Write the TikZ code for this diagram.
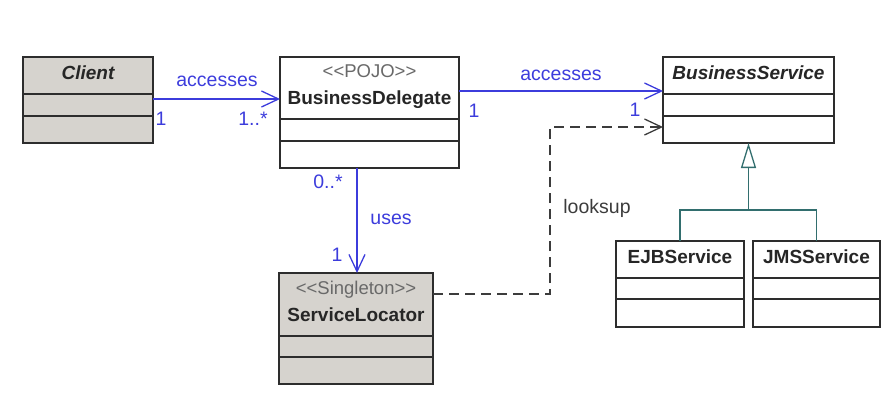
\documentclass[tikz,border=0pt]{standalone}
\usepackage{fontspec}
\setmainfont{Liberation Sans}
\usetikzlibrary{arrows.meta}
\definecolor{umlblue}{RGB}{60,60,220}
\definecolor{umlgray}{RGB}{214,211,206}
\definecolor{umlline}{RGB}{45,45,45}
\definecolor{umlteal}{RGB}{50,110,110}
\definecolor{stereo}{RGB}{105,105,105}
\definecolor{dashc}{RGB}{60,60,60}
\begin{document}
\begin{tikzpicture}[x=1pt,y=-1pt,
  cls/.style={draw=umlline, line width=1.3pt, anchor=north west, inner sep=0pt, outer sep=0pt},
  div/.style={draw=umlline, line width=1.3pt},
  cname/.style={font=\bfseries\fontsize{19}{22}\selectfont, text=black!85, anchor=base, inner sep=0pt},
  stereotype/.style={font=\fontsize{18.5}{22}\selectfont, text=stereo, anchor=base, inner sep=0pt},
  lbl/.style={font=\fontsize{19.5}{22}\selectfont, text=umlblue, anchor=base, inner sep=0pt},
  dlbl/.style={font=\fontsize{19.5}{22}\selectfont, text=dashc, anchor=base, inner sep=0pt},
  assoc/.style={draw=umlblue, line width=1.3pt, -{Straight Barb[length=17pt,width=16pt,line width=1.3pt]}},
  dep/.style={draw=dashc, line width=1.3pt, dash pattern=on 10pt off 6pt, -{Straight Barb[length=17pt,width=16pt,line width=1.3pt]}},
  genl/.style={draw=umlteal, line width=1.3pt}
]
\useasboundingbox (0,0) rectangle (883,392);

% Client
\node[cls, fill=umlgray, minimum width=130pt, minimum height=86pt] (client) at (23,57) {};
\draw[div] (23,94) -- (153,94);
\draw[div] (23,116) -- (153,116);
\node[cname] (clientname) at (88,79) {\itshape Client};

% BusinessDelegate
\node[cls, fill=white, minimum width=179pt, minimum height=111pt] (bd) at (280,57) {};
\draw[div] (280,119) -- (459,119);
\draw[div] (280,141) -- (459,141);
\node[stereotype] (bdst) at (369.5,77) {{<}{<}POJO{>}{>}};
\node[cname] (bdname) at (369.5,104) {BusinessDelegate};

% BusinessService
\node[cls, fill=white, minimum width=171pt, minimum height=86pt] (bs) at (663,57) {};
\draw[div] (663,94) -- (834,94);
\draw[div] (663,116) -- (834,116);
\node[cname] (bsname) at (748.5,79) {\itshape BusinessService};

% ServiceLocator
\node[cls, fill=umlgray, minimum width=154pt, minimum height=111pt] (sl) at (279,273) {};
\draw[div] (279,336) -- (433,336);
\draw[div] (279,357) -- (433,357);
\node[stereotype] (slst) at (356,294) {{<}{<}Singleton{>}{>}};
\node[cname] (slname) at (356,321) {ServiceLocator};

% EJBService
\node[cls, fill=white, minimum width=128pt, minimum height=86pt] (ejb) at (616,241) {};
\draw[div] (616,278) -- (744,278);
\draw[div] (616,299) -- (744,299);
\node[cname] (ejbname) at (680,263) {EJBService};

% JMSService
\node[cls, fill=white, minimum width=127pt, minimum height=86pt] (jms) at (753,241) {};
\draw[div] (753,278) -- (880,278);
\draw[div] (753,299) -- (880,299);
\node[cname] (jmsname) at (816.5,263) {JMSService};

% Client -> BusinessDelegate
\draw[assoc] (client.east |- 0,99) -- (bd.west |- 0,99);
\node[lbl] (acc1) at (217,86) {accesses};
\node[lbl] (m1a) at (161,125) {1};
\node[lbl] (m1b) at (253,125) {1..*};

% BusinessDelegate -> BusinessService
\draw[assoc] (bd.east |- 0,91) -- (bs.west |- 0,91);
\node[lbl] (acc2) at (561,80) {accesses};
\node[lbl] (m2a) at (474,117) {1};
\node[lbl] (m2b) at (635,116) {1};

% BusinessDelegate -> ServiceLocator
\draw[assoc] (bd.south -| 357,0) -- (sl.north -| 357,0);
\node[lbl] (m3a) at (328,188) {0..*};
\node[lbl] (uses) at (391,224) {uses};
\node[lbl] (m3b) at (337,261) {1};

% ServiceLocator -> BusinessService (dependency)
\coordinate (bend) at (550,127);
\draw[dep] (sl.east |- 0,294) -| (bend) -- (bs.west |- bend);
\node[dlbl] (looksup) at (597,213) {looksup};

% Generalization
\coordinate (gj) at (748.5,210);
\draw[genl] (ejb.north) |- (gj) -| (jms.north);
\draw[genl, -{Triangle[length=25pt,width=15pt,line width=1.3pt,fill=white]}] (gj) -- (bs.south);
\end{tikzpicture}
\end{document}
